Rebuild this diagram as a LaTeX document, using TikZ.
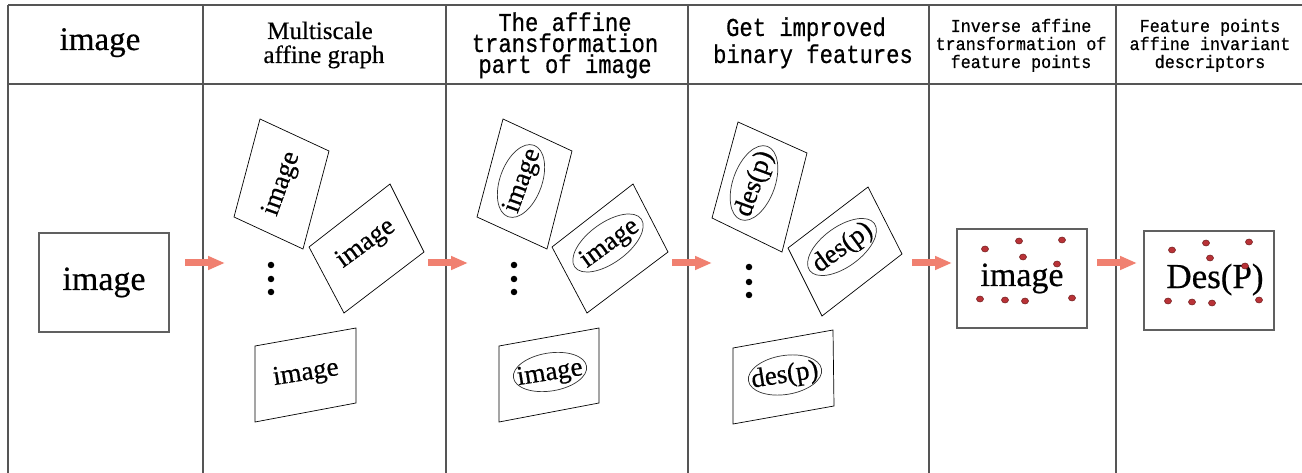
\documentclass[tikz,border=0pt]{standalone}
\usepackage{fontspec}
\setmainfont[FakeBold=0.5]{Liberation Serif}
\newfontfamily\monof[FakeStretch=0.86,FakeBold=0.6]{Liberation Mono}
\newfontfamily\monosmall[FakeStretch=0.92,FakeBold=0.6]{Liberation Mono}
\usetikzlibrary{arrows.meta,shapes.geometric}
\definecolor{salmon}{RGB}{240,128,112}
\definecolor{gridc}{RGB}{85,85,85}
\definecolor{dotred}{RGB}{185,50,55}
\definecolor{dotedge}{RGB}{110,25,25}
\tikzset{
  tableline/.style={draw=gridc,line width=1.4pt},
  hdbig/.style={font=\fontsize{33}{33}\selectfont,anchor=base,inner sep=0pt},
  hdserif/.style={font=\fontsize{25}{25}\selectfont,anchor=base,inner sep=0pt},
  hdmono/.style={font=\monof\fontsize{25.8}{22}\selectfont,anchor=base,inner sep=0pt},
  hdmonosmall/.style={font=\monosmall\fontsize{18.2}{18}\selectfont,anchor=base,inner sep=0pt},
  plainbox/.style={draw=gray!75!black,line width=1.2pt},
  tiltbox/.style={draw=black,line width=0.7pt},
  bodytxt/.style={font=\fontsize{27}{27}\selectfont,inner sep=0pt},
  bigtxt/.style={font=\fontsize{34}{34}\selectfont,anchor=base,inner sep=0pt},
  oval/.style={draw=black!80,line width=0.7pt,ellipse,inner sep=0pt},
  flowarrow/.style={draw=salmon,line width=7pt,-{Triangle[width=13pt,length=17pt]}},
  vdot/.style={circle,fill=black,inner sep=0pt,minimum size=6.5pt},
  featpt/.style={ellipse,fill=dotred,draw=dotedge,line width=0.5pt,inner sep=0pt,minimum width=7pt,minimum height=6pt}
}
\begin{document}
\begin{tikzpicture}[x=1pt,y=-1pt]
\useasboundingbox (0,0) rectangle (1302,473);
\fill[white] (0,0) rectangle (1302,473);
% table
\draw[tableline] (8,5) -- (1302,5);
\draw[tableline] (8,84) -- (1302,84);
\foreach \xx in {8,203,446,688,929,1116}{\draw[tableline] (\xx,5) -- (\xx,473);}
% headers
\node[hdbig] (h1) at (100,50) {image};
\node[hdserif] (h2a) at (320,39) {Multiscale};
\node[hdserif] (h2b) at (324,63) {affine graph};
\node[hdmono] (h3a) at (565,31) {The affine};
\node[hdmono] (h3b) at (565,52) {transformation};
\node[hdmono] (h3c) at (565,73) {part of image};
\node[hdmono] (h4a) at (806,36) {Get improved};
\node[hdmono] (h4b) at (813,63) {binary features};
\node[hdmonosmall] (h5a) at (1021,32) {Inverse affine};
\node[hdmonosmall] (h5b) at (1021,50) {transformation of};
\node[hdmonosmall] (h5c) at (1021,68) {feature points};
\node[hdmonosmall] (h6a) at (1210,32) {Feature points};
\node[hdmonosmall] (h6b) at (1210,50) {affine invariant};
\node[hdmonosmall] (h6c) at (1210,68) {descriptors};
% column 1
\draw[plainbox] (39,233) rectangle (169,332);
\node[bigtxt] (t1) at (104,290) {image};
% column 2
\draw[tiltbox] (260,119) -- (329,151) -- (303,249) -- (234,217) -- cycle;
\draw[tiltbox] (390,184) -- (424,252) -- (344,313) -- (309,247) -- cycle;
\draw[tiltbox] (255,346) -- (356,328) -- (356,403) -- (255,422) -- cycle;
\node[bodytxt,rotate=70] (t2a) at (282,184) {image};
\node[bodytxt,rotate=36] (t2b) at (366,244) {image};
\node[bodytxt,rotate=9] (t2c) at (306,374) {image};
\node[vdot] (d2a) at (271,265) {};
\node[vdot] (d2b) at (271,279) {};
\node[vdot] (d2c) at (271,292) {};
% column 3
\draw[tiltbox] (503,119) -- (572,151) -- (547,249) -- (477,217) -- cycle;
\draw[tiltbox] (633,184) -- (668,252) -- (587,313) -- (552,247) -- cycle;
\draw[tiltbox] (499,346) -- (599,328) -- (599,403) -- (499,422) -- cycle;
\node[bodytxt,rotate=70] (t3a) at (523,181) {image};
\node[bodytxt,rotate=36] (t3b) at (610,244) {image};
\node[bodytxt,rotate=9] (t3c) at (550,374) {image};
\node[oval,rotate=70,minimum width=76pt,minimum height=42pt] (e3a) at (521,181) {};
\node[oval,rotate=36,minimum width=82pt,minimum height=40pt] (e3b) at (608,243) {};
\node[oval,rotate=9,minimum width=74pt,minimum height=38pt] (e3c) at (550,372) {};
\node[vdot] (d3a) at (514,265) {};
\node[vdot] (d3b) at (514,279) {};
\node[vdot] (d3c) at (514,292) {};
% column 4
\draw[tiltbox] (738,122) -- (807,153) -- (782,252) -- (712,218) -- cycle;
\draw[tiltbox] (868,187) -- (902,254) -- (822,316) -- (788,248) -- cycle;
\draw[tiltbox] (733,348) -- (833,330) -- (834,406) -- (733,424) -- cycle;
\node[bodytxt,rotate=70] (t4a) at (755,184) {des(p)};
\node[bodytxt,rotate=36] (t4b) at (843,248) {des(p)};
\node[bodytxt,rotate=9] (t4c) at (785,376) {des(p)};
\node[oval,rotate=70,minimum width=78pt,minimum height=42pt] (e4a) at (754,183) {};
\node[oval,rotate=36,minimum width=80pt,minimum height=40pt] (e4b) at (842,247) {};
\node[oval,rotate=9,minimum width=74pt,minimum height=39pt] (e4c) at (785,375) {};
\node[vdot] (d4a) at (749,267) {};
\node[vdot] (d4b) at (749,282) {};
\node[vdot] (d4c) at (749,295) {};
% column 5
\draw[plainbox] (957,229) rectangle (1087,328);
\node[bigtxt] (t5) at (1022,286) {image};
\foreach \px/\py [count=\i] in {985/249,1019/241,1062/240,1023/257,1057/264,980/299,1005/300,1025/301,1072/298}
  {\node[featpt] (p5-\i) at (\px,\py) {};}
% column 6
\draw[plainbox] (1144,231) rectangle (1274,330);
\node[font=\fontsize{35}{35}\selectfont,anchor=base,inner sep=0pt] (t6) at (1215,288) {Des(P)};
\foreach \px/\py [count=\i] in {1172/250,1206/243,1249/242,1210/258,1245/266,1168/301,1192/302,1212/303,1259/300}
  {\node[featpt] (p6-\i) at (\px,\py) {};}
% arrows
\coordinate (a1s) at (185,263); \coordinate (a1e) at (225,263);
\coordinate (a2s) at (428,263); \coordinate (a2e) at (468,263);
\coordinate (a3s) at (672,263); \coordinate (a3e) at (712,263);
\coordinate (a4s) at (912,263); \coordinate (a4e) at (952,263);
\coordinate (a5s) at (1097,263); \coordinate (a5e) at (1137,263);
\draw[flowarrow] (a1s) -- (a1e);
\draw[flowarrow] (a2s) -- (a2e);
\draw[flowarrow] (a3s) -- (a3e);
\draw[flowarrow] (a4s) -- (a4e);
\draw[flowarrow] (a5s) -- (a5e);
\end{tikzpicture}
\end{document}
